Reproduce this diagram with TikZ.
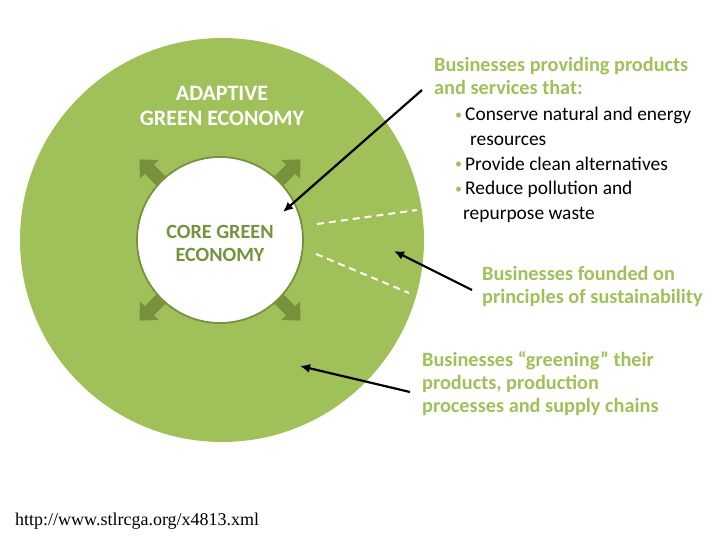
\documentclass[tikz,border=0pt]{standalone}
\usepackage{fontspec}
\setmainfont{Carlito}
\newfontfamily\urlfont{Liberation Serif}
\usetikzlibrary{arrows.meta, positioning}
\definecolor{adaptgreen}{RGB}{160,192,90}
\definecolor{coregreen}{RGB}{118,146,60}

\newcommand{\gbullet}{\makebox[10pt][l]{\raisebox{1.2pt}{\textcolor{adaptgreen}{\fontsize{14}{14}\selectfont\textbullet}}}}

\tikzset{
  ringtext/.style={font=\fontsize{22}{25}\selectfont\bfseries, align=center, inner sep=0pt},
  notetext/.style={font=\fontsize{20.3}{23}\selectfont\bfseries, text=adaptgreen, align=left, inner sep=0pt, anchor=north west},
  pointer/.style={-{Latex[length=10pt,width=9pt]}, line width=2.2pt},
  boundary/.style={white, line width=2pt, dash pattern=on 7pt off 5pt}
}

\begin{document}
\begin{tikzpicture}[x=1pt, y=-1pt]
  \useasboundingbox (0,0) rectangle (720,540);

  % outer ring
  \node[circle, fill=adaptgreen, minimum size=404pt, inner sep=0pt] (adaptive) at (222,240) {};

  % growth arrows behind the core
  \foreach \ang in {45,135,225,315}
    \fill[coregreen, shift={(220,240)}, rotate=\ang]
      (70,-6.5) -- (100,-6.5) -- (100,-13) -- (114,0) -- (100,13) -- (100,6.5) -- (70,6.5) -- cycle;

  \node[circle, fill=white, draw=coregreen, line width=1.8pt, minimum size=166pt, inner sep=0pt] (core) at (220,240) {};

  \node[ringtext, text=white] (adaptlabel) at (222,106) {ADAPTIVE\\GREEN ECONOMY};
  \node[ringtext, text=coregreen, font=\fontsize{20.2}{23}\selectfont\bfseries] (corelabel) at (220,243) {CORE GREEN\\ECONOMY};

  % sector boundaries
  \draw[boundary] (317,224) -- (417,210);
  \draw[boundary] (316,254) -- (409,293);

  % notes
  \node[notetext] (provide) at (434,57.5) {Businesses providing products\\and services that:};
  \node[notetext, text=black, font=\fontsize{19.4}{24.75}\selectfont, anchor=north west] (bullets) at (455,107)
    {\gbullet Conserve natural and energy\\
     \hspace*{15pt}resources\\
     \gbullet Provide clean alternatives\\
     \gbullet Reduce pollution and\\
     \hspace*{8pt}repurpose waste};
  \node[notetext] (founded) at (482,266.5) {Businesses founded on\\principles of sustainability};
  \node[notetext] (greening) at (422,351.5) {Businesses “greening” their\\products, production\\processes and supply chains};

  \coordinate (p1s) at (422,90);
  \coordinate (p1e) at (283,212);
  \coordinate (p2s) at (472,290);
  \coordinate (p2e) at (394,251);
  \coordinate (p3s) at (410,392);
  \coordinate (p3e) at (300,366);
  \draw[pointer] (p1s) -- (p1e);
  \draw[pointer] (p2s) -- (p2e);
  \draw[pointer] (p3s) -- (p3e);

  \node[anchor=west, inner sep=0pt, font=\urlfont\fontsize{18}{18}\selectfont] (source) at (15,521) {http://www.stlrcga.org/x4813.xml};
\end{tikzpicture}
\end{document}
